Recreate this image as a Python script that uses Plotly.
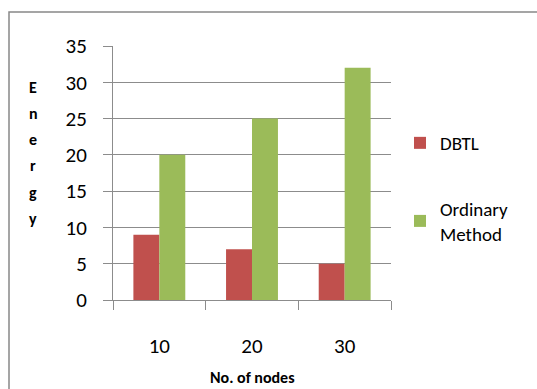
import plotly.graph_objects as go

categories = ["10", "20", "30"]
dbtl = [9, 7, 5]
ordinary = [20, 25, 32]
series_names = ["DBTL", "Ordinary<br>Method"]
y_ticks = [0, 5, 10, 15, 20, 25, 30, 35]
y_title = "Energy"
x_title = "No. of nodes"

FONT = "Carlito, Lato, sans-serif"
GRID = "#8c8c8c"

fig = go.Figure()
fig.add_trace(go.Bar(x=categories, y=dbtl, name=series_names[0],
                     marker=dict(color="#C0504D", line=dict(width=0)), legendgroup="a"))
fig.add_trace(go.Bar(x=categories, y=ordinary, name=series_names[1],
                     marker=dict(color="#9BBB59", line=dict(width=0)), legendgroup="b"))

L, R, T, B = 113, 146, 46, 89
W, H = 537, 389
pw, ph = W - L - R, H - T - B

fig.update_layout(
    width=W, height=H,
    margin=dict(l=L, r=R, t=T, b=B, pad=0),
    paper_bgcolor="white", plot_bgcolor="white",
    barmode="group", bargap=0.44, bargroupgap=0,
    font=dict(family=FONT, color="#000000"),
    showlegend=True,
    legend=dict(x=(400 - L) / pw, y=(300 - 124) / ph, xanchor="left", yanchor="top",
                font=dict(size=19, family=FONT), tracegroupgap=38,
                bgcolor="rgba(0,0,0,0)", itemwidth=30),
    xaxis=dict(type="category", tickson="boundaries", ticks="outside", ticklen=9,
               tickcolor=GRID, tickwidth=1, showline=True, linecolor=GRID, linewidth=1,
               tickfont=dict(size=21, family=FONT), ticklabelstandoff=27,
               showgrid=False, zeroline=False),
    yaxis=dict(range=[0, 35], tickvals=y_ticks, ticks="outside", ticklen=9,
               tickcolor=GRID, tickwidth=1, showline=True, linecolor=GRID, linewidth=1,
               showgrid=True, gridcolor=GRID, gridwidth=1, zeroline=False,
               tickfont=dict(size=21, family=FONT), ticklabelstandoff=12),
)

# stacked y title letters
y_positions = [87, 114, 139, 165, 192, 218]
for ch, yp in zip(y_title, y_positions):
    fig.add_annotation(text="<b>" + ch + "</b>", xref="paper", yref="paper",
                       x=(33 - L) / pw, y=(300 - yp) / ph, showarrow=False,
                       xanchor="center", yanchor="middle",
                       font=dict(size=16, family=FONT, color="#000000"))

fig.add_annotation(text="<b>" + x_title + "</b>", xref="paper", yref="paper",
                   x=(252 - L) / pw, y=(300 - 377) / ph, showarrow=False,
                   xanchor="center", yanchor="middle",
                   font=dict(size=16, family=FONT, color="#000000"))

# outer chart border
fig.add_shape(type="rect", xref="paper", yref="paper",
              x0=(9 - L) / pw, y0=(300 - 400) / ph, x1=(545 - L) / pw, y1=(300 - 12) / ph,
              line=dict(color="#888888", width=1.5), fillcolor="rgba(0,0,0,0)", layer="below")

fig.write_html("out.html", config={"displayModeBar": False},
               post_script="document.body.style.margin='0';document.body.style.overflow='hidden';")
